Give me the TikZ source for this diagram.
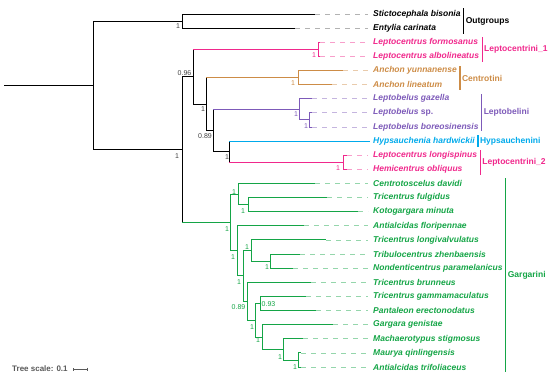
\documentclass[tikz,border=0pt]{standalone}
\usepackage{fontspec}
\setmainfont{Liberation Sans}
\usetikzlibrary{arrows.meta}
\definecolor{lepink}{RGB}{240,40,140}
\definecolor{cenbrown}{RGB}{205,140,70}
\definecolor{lbpurple}{RGB}{125,90,185}
\definecolor{hyblue}{RGB}{0,170,235}
\definecolor{gagreen}{RGB}{20,165,70}

\begin{document}
\begin{tikzpicture}[x=1pt,y=-1pt,
  br/.style={line width=0.9pt},
  dl/.style={line width=0.8pt,dash pattern=on 5pt off 5pt,shorten >=4pt},
  lf/.style={anchor=west,inner sep=1pt,font=\fontsize{8.5}{10}\selectfont\bfseries\itshape},
  bs/.style={inner sep=0pt,font=\fontsize{7}{8}\selectfont},
  cbar/.style={line width=1.1pt},
  clab/.style={anchor=west,inner sep=1.5pt,font=\fontsize{8.5}{10}\selectfont\bfseries}]
  \useasboundingbox (0,0) rectangle (550,378);

  % 内部节点
  \coordinate (r0) at (4,85.3);
  \coordinate (rt) at (93,85.3);
  \coordinate (og) at (182,21.05);
  \coordinate (ni) at (182,149.5);
  \coordinate (nb) at (193,76.65);
  \coordinate (nc) at (206,104);
  \coordinate (nd) at (213,130.5);
  \coordinate (ne) at (229,151.7);
  \coordinate (lc1) at (318,49.3);
  \coordinate (an) at (298,77.55);
  \coordinate (lb) at (299,109.3);
  \coordinate (lbs) at (309,119.9);
  \coordinate (lc2) at (343,162.25);
  \coordinate (g0) at (230,222.4);
  \coordinate (g1) at (238,194);
  \coordinate (g1b) at (248,204.65);
  \coordinate (g2) at (237,250.85);
  \coordinate (g3) at (243,275.9);
  \coordinate (g4) at (251,250.5);
  \coordinate (g5) at (270,261.1);
  \coordinate (g6) at (247,301.25);
  \coordinate (g7) at (255,320.2);
  \coordinate (g8) at (260,303.45);
  \coordinate (g9) at (262,337);
  \coordinate (g10) at (283,349.4);
  \coordinate (g11) at (298,359.95);

  % 枝端
  \coordinate (sb-t) at (315,14);
  \coordinate (ec-t) at (295,28.1);
  \coordinate (lfo-t) at (320,42.2);
  \coordinate (lal-t) at (320,56.4);
  \coordinate (ayu-t) at (343,70.5);
  \coordinate (ali-t) at (332,84.6);
  \coordinate (lgz-t) at (312,98.7);
  \coordinate (lsp-t) at (312,112.8);
  \coordinate (lbr-t) at (312,127);
  \coordinate (hh-t) at (370,141.1);
  \coordinate (llo-t) at (347,155.2);
  \coordinate (hob-t) at (347,169.3);
  \coordinate (cd-t) at (315,183.4);
  \coordinate (tf-t) at (327,197.6);
  \coordinate (km-t) at (358,211.7);
  \coordinate (af-t) at (304,225.8);
  \coordinate (tl-t) at (326,239.9);
  \coordinate (tz-t) at (300,254);
  \coordinate (np-t) at (293,268.2);
  \coordinate (tb-t) at (311,282.3);
  \coordinate (tg-t) at (306,296.4);
  \coordinate (pe-t) at (316,310.5);
  \coordinate (gg-t) at (333,324.6);
  \coordinate (ms-t) at (303,338.8);
  \coordinate (mq-t) at (301,352.9);
  \coordinate (at-t) at (301,367);

  % 物种名
  \node[lf] (sb) at (372,14) {Stictocephala bisonia};
  \node[lf] (ec) at (372,28.1) {Entylia carinata};
  \node[lf,lepink] (lfo) at (372,42.2) {Leptocentrus formosanus};
  \node[lf,lepink] (lal) at (372,56.4) {Leptocentrus albolineatus};
  \node[lf,cenbrown] (ayu) at (372,70.5) {Anchon yunnanense};
  \node[lf,cenbrown] (ali) at (372,84.6) {Anchon lineatum};
  \node[lf,lbpurple] (lgz) at (372,98.7) {Leptobelus gazella};
  \node[lf,lbpurple] (lsp) at (372,112.8) {Leptobelus \textup{sp.}};
  \node[lf,lbpurple] (lbr) at (372,127) {Leptobelus boreosinensis};
  \node[lf,hyblue] (hh) at (372,141.1) {Hypsauchenia hardwickii};
  \node[lf,lepink] (llo) at (372,155.2) {Leptocentrus longispinus};
  \node[lf,lepink] (hob) at (372,169.3) {Hemicentrus obliquus};
  \node[lf,gagreen] (cd) at (372,183.4) {Centrotoscelus davidi};
  \node[lf,gagreen] (tf) at (372,197.6) {Tricentrus fulgidus};
  \node[lf,gagreen] (km) at (372,211.7) {Kotogargara minuta};
  \node[lf,gagreen] (af) at (372,225.8) {Antialcidas floripennae};
  \node[lf,gagreen] (tl) at (372,239.9) {Tricentrus longivalvulatus};
  \node[lf,gagreen] (tz) at (372,254) {Tribulocentrus zhenbaensis};
  \node[lf,gagreen] (np) at (372,268.2) {Nondenticentrus paramelanicus};
  \node[lf,gagreen] (tb) at (372,282.3) {Tricentrus brunneus};
  \node[lf,gagreen] (tg) at (372,296.4) {Tricentrus gammamaculatus};
  \node[lf,gagreen] (pe) at (372,310.5) {Pantaleon erectonodatus};
  \node[lf,gagreen] (gg) at (372,324.6) {Gargara genistae};
  \node[lf,gagreen] (ms) at (372,338.8) {Machaerotypus stigmosus};
  \node[lf,gagreen] (mq) at (372,352.9) {Maurya qinlingensis};
  \node[lf,gagreen] (at) at (372,367) {Antialcidas trifoliaceus};

  % 骨架（黑色）
  \draw[br] (r0) -- (rt);
  \draw[br] (rt |- og) -- (rt |- ni);
  \draw[br] (rt |- og) -- (og) (rt |- ni) -- (ni);
  \draw[br] (og |- sb-t) -- (og |- ec-t);
  \draw[br] (og |- sb-t) -- (sb-t) (og |- ec-t) -- (ec-t);
  \draw[br] (ni |- nb) -- (ni |- g0) (ni |- nb) -- (nb);
  \draw[br] (nb |- lc1) -- (nb |- nc) (nb |- nc) -- (nc);
  \draw[br] (nc |- an) -- (nc |- nd) (nc |- nd) -- (nd);
  \draw[br] (nd |- lb) -- (nd |- ne) (nd |- ne) -- (ne);
  \draw[br] (ne |- hh-t) -- (ne |- lc2);

  % 各族分支
  \draw[br,lepink] (nb |- lc1) -- (lc1) (lc1) |- (lfo-t) (lc1) |- (lal-t);
  \draw[br,cenbrown] (nc |- an) -- (an) (an) |- (ayu-t) (an) |- (ali-t);
  \draw[br,lbpurple] (nd |- lb) -- (lb) (lb) |- (lgz-t) (lb) |- (lbs)
    (lbs) |- (lsp-t) (lbs) |- (lbr-t);
  \draw[br,hyblue] (ne |- hh-t) -- (hh-t);
  \draw[br,lepink] (ne |- lc2) -- (lc2) (lc2) |- (llo-t) (lc2) |- (hob-t);
  \draw[br,gagreen] (ni |- g0) -- (g0)
    (g0) |- (g1) (g0) |- (g2)
    (g1) |- (cd-t) (g1) |- (g1b) (g1b) |- (tf-t) (g1b) |- (km-t)
    (g2) |- (af-t) (g2) |- (g3)
    (g3) |- (g4) (g3) |- (g6)
    (g4) |- (tl-t) (g4) |- (g5) (g5) |- (tz-t) (g5) |- (np-t)
    (g6) |- (tb-t) (g6) |- (g7)
    (g7) |- (g8) (g7) |- (g9) (g8) |- (tg-t) (g8) |- (pe-t)
    (g9) |- (gg-t) (g9) |- (g10)
    (g10) |- (ms-t) (g10) |- (g11) (g11) |- (mq-t) (g11) |- (at-t);

  % 虚线连到物种名
  \draw[dl,black!30] (sb-t) -- (sb);
  \draw[dl,black!30] (ec-t) -- (ec);
  \draw[dl,lepink!45] (lfo-t) -- (lfo);
  \draw[dl,lepink!45] (lal-t) -- (lal);
  \draw[dl,cenbrown!45] (ayu-t) -- (ayu);
  \draw[dl,cenbrown!45] (ali-t) -- (ali);
  \draw[dl,lbpurple!45] (lgz-t) -- (lgz);
  \draw[dl,lbpurple!45] (lsp-t) -- (lsp);
  \draw[dl,lbpurple!45] (lbr-t) -- (lbr);
  \draw[dl,lepink!45] (llo-t) -- (llo);
  \draw[dl,lepink!45] (hob-t) -- (hob);
  \draw[dl,gagreen!45] (cd-t) -- (cd);
  \draw[dl,gagreen!45] (tf-t) -- (tf);
  \draw[dl,gagreen!45] (km-t) -- (km);
  \draw[dl,gagreen!45] (af-t) -- (af);
  \draw[dl,gagreen!45] (tl-t) -- (tl);
  \draw[dl,gagreen!45] (tz-t) -- (tz);
  \draw[dl,gagreen!45] (np-t) -- (np);
  \draw[dl,gagreen!45] (tb-t) -- (tb);
  \draw[dl,gagreen!45] (tg-t) -- (tg);
  \draw[dl,gagreen!45] (pe-t) -- (pe);
  \draw[dl,gagreen!45] (gg-t) -- (gg);
  \draw[dl,gagreen!45] (ms-t) -- (ms);
  \draw[dl,gagreen!45] (mq-t) -- (mq);
  \draw[dl,gagreen!45] (at-t) -- (at);

  % 支持率
  \node[bs,black!75] (s-og) at (178,26) {1};
  \node[bs,black!75] (s-nb) at (184.5,73) {0.96};
  \node[bs,black!75] (s-nc) at (203,109.5) {1};
  \node[bs,black!75] (s-nd) at (205,136.5) {0.89};
  \node[bs,black!75] (s-ne) at (227,157) {1};
  \node[bs,black!75] (s-ni) at (177,156) {1};
  \node[bs,lepink] (s-lc1) at (314,55) {1};
  \node[bs,cenbrown] (s-an) at (293,83) {1};
  \node[bs,lbpurple] (s-lb) at (296,114) {1};
  \node[bs,lbpurple] (s-lbs) at (306,126) {1};
  \node[bs,lepink] (s-lc2) at (338,168) {1};
  \node[bs,gagreen] (s-g0) at (227,229) {1};
  \node[bs,gagreen] (s-g1) at (234,192) {1};
  \node[bs,gagreen] (s-g1b) at (243,211) {1};
  \node[bs,gagreen] (s-g2) at (233,257) {1};
  \node[bs,gagreen] (s-g4) at (247,247) {1};
  \node[bs,gagreen] (s-g5) at (267,267) {1};
  \node[bs,gagreen] (s-g3) at (239,282) {1};
  \node[bs,gagreen] (s-g6) at (238.5,307) {0.89};
  \node[bs,gagreen] (s-g8) at (268.5,304) {0.93};
  \node[bs,gagreen] (s-g7) at (252,327) {1};
  \node[bs,gagreen] (s-g9) at (258,340) {1};
  \node[bs,gagreen] (s-g10) at (280,357) {1};
  \node[bs,gagreen] (s-g11) at (295,367) {1};

  % 族标记
  \coordinate (ogx) at ([xshift=2pt]sb.east);
  \coordinate (lc1x) at ([xshift=2pt]lal.east);
  \coordinate (cenx) at ([xshift=2pt]ayu.east);
  \coordinate (lbx) at ([xshift=2pt]lbr.east);
  \coordinate (hyx) at ([xshift=2pt]hh.east);
  \coordinate (lc2x) at ([xshift=2pt]llo.east);
  \coordinate (gax) at ([xshift=2pt]np.east);
  \draw[cbar] (ogx |- 0,8) -- (ogx |- 0,34)
    node[clab,midway] (og-lab) {Outgroups};
  \draw[cbar,lepink] (lc1x |- 0,37) -- (lc1x |- 0,62)
    node[clab,midway,lepink] (lc1-lab) {Leptocentrini\_1};
  \draw[cbar,cenbrown] (cenx |- 0,66) -- (cenx |- 0,90)
    node[clab,midway,cenbrown] (cen-lab) {Centrotini};
  \draw[cbar,lbpurple] (lbx |- 0,94) -- (lbx |- 0,131)
    node[clab,midway,lbpurple] (lb-lab) {Leptobelini};
  \draw[cbar,hyblue] (hyx |- 0,135) -- (hyx |- 0,147)
    node[clab,midway,hyblue] (hy-lab) {Hypsauchenini};
  \draw[cbar,lepink] (lc2x |- 0,150) -- (lc2x |- 0,175)
    node[clab,midway,lepink] (lc2-lab) {Leptocentrini\_2};
  \draw[cbar,gagreen] (gax |- 0,178) -- (gax |- 0,372)
    node[clab,midway,gagreen] (ga-lab) {Gargarini};

  % 标尺
  \node[anchor=west,inner sep=0pt,font=\fontsize{8}{9}\selectfont\bfseries,black!65] (ts) at (12,369) {Tree scale: 0.1};
  \coordinate (ts-a) at ([xshift=5pt]ts.east);
  \coordinate (ts-b) at ([xshift=20pt]ts.east);
  \draw[black!65,line width=0.6pt,{Bar[width=3pt]}-{Bar[width=3pt]}] (ts-a) -- (ts-b);
\end{tikzpicture}
\end{document}
